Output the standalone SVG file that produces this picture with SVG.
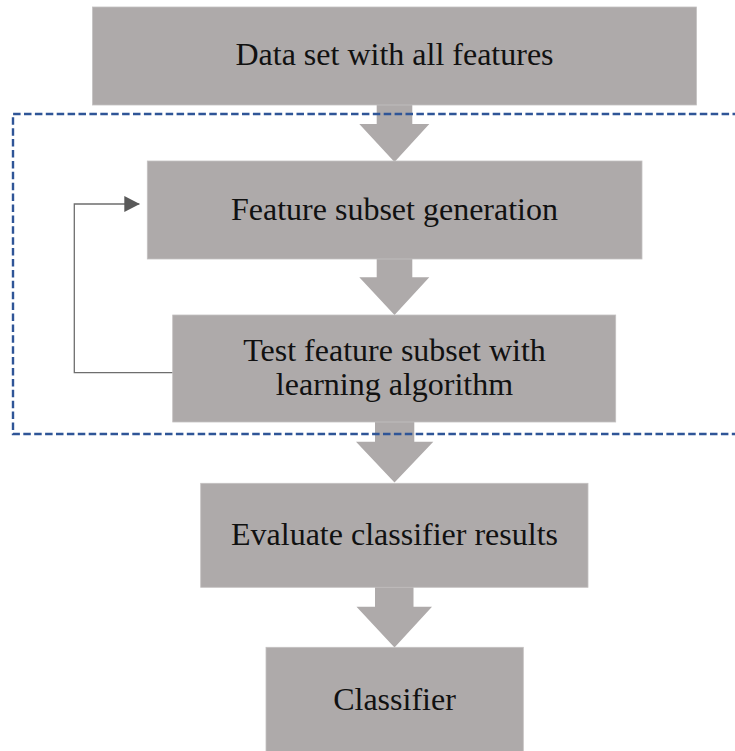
<svg xmlns="http://www.w3.org/2000/svg" width="735" height="751" viewBox="0 0 735 751">
  <style>
    .box { fill: #aeaaaa; stroke: #c4c1c1; stroke-width: 0.8; }
    .label { font-family: "Liberation Serif", "Times New Roman", serif; font-size: 32px; fill: #111111; text-anchor: middle; }
    .flow { fill: #aeaaaa; }
    .group { fill: none; stroke: #2f5597; stroke-width: 2.4; stroke-dasharray: 7.5 3.4; }
    .loop { fill: none; stroke: #6e6e6e; stroke-width: 1.3; }
  </style>
  <defs>
    <marker id="head" markerUnits="userSpaceOnUse" markerWidth="16" markerHeight="16" refX="15" refY="8" orient="auto">
      <path d="M0,0 L15.5,8 L0,16 Z" fill="#595959"/>
    </marker>
  </defs>

  <!-- block arrows between stages -->
  <g id="connectors">
    <polygon class="flow" points="376.7,104 412.3,104 412.3,124 429.3,124 394.5,162 359.3,124 376.7,124"/>
    <polygon class="flow" points="376.7,258 412.3,258 412.3,277.3 429.3,277.3 394.5,315 359.3,277.3 376.7,277.3"/>
    <polygon class="flow" points="375,421 414.3,421 414.3,441.7 433.3,441.7 394.5,482.5 356,441.7 375,441.7"/>
    <polygon class="flow" points="375,586 413.5,586 413.5,606.7 432,606.7 394.5,647.5 356.5,606.7 375,606.7"/>
    <!-- feedback from testing back to subset generation -->
    <polyline class="loop" points="173,372.7 74.3,372.7 74.3,204 139.3,204" marker-end="url(#head)"/>
  </g>

  <g id="node-dataset">
    <rect class="box" x="92.5" y="7" width="604" height="98"/>
    <text class="label" x="394.5" y="65">Data set with all features</text>
  </g>

  <g id="node-generation">
    <rect class="box" x="147.3" y="161" width="494.7" height="98"/>
    <text class="label" x="394.5" y="220">Feature subset generation</text>
  </g>

  <g id="node-test">
    <rect class="box" x="172.7" y="315" width="443" height="107"/>
    <text class="label" x="394.5" y="361">Test feature subset with</text>
    <text class="label" x="394.5" y="395">learning algorithm</text>
  </g>

  <g id="node-evaluate">
    <rect class="box" x="200.7" y="483.3" width="387.3" height="104"/>
    <text class="label" x="394.5" y="545">Evaluate classifier results</text>
  </g>

  <g id="node-classifier">
    <rect class="box" x="266" y="647.3" width="257.3" height="110"/>
    <text class="label" x="394.5" y="710">Classifier</text>
  </g>

  <!-- dashed boundary of the wrapper loop -->
  <path class="group" d="M740,114 H13 V434 H740"/>
</svg>
